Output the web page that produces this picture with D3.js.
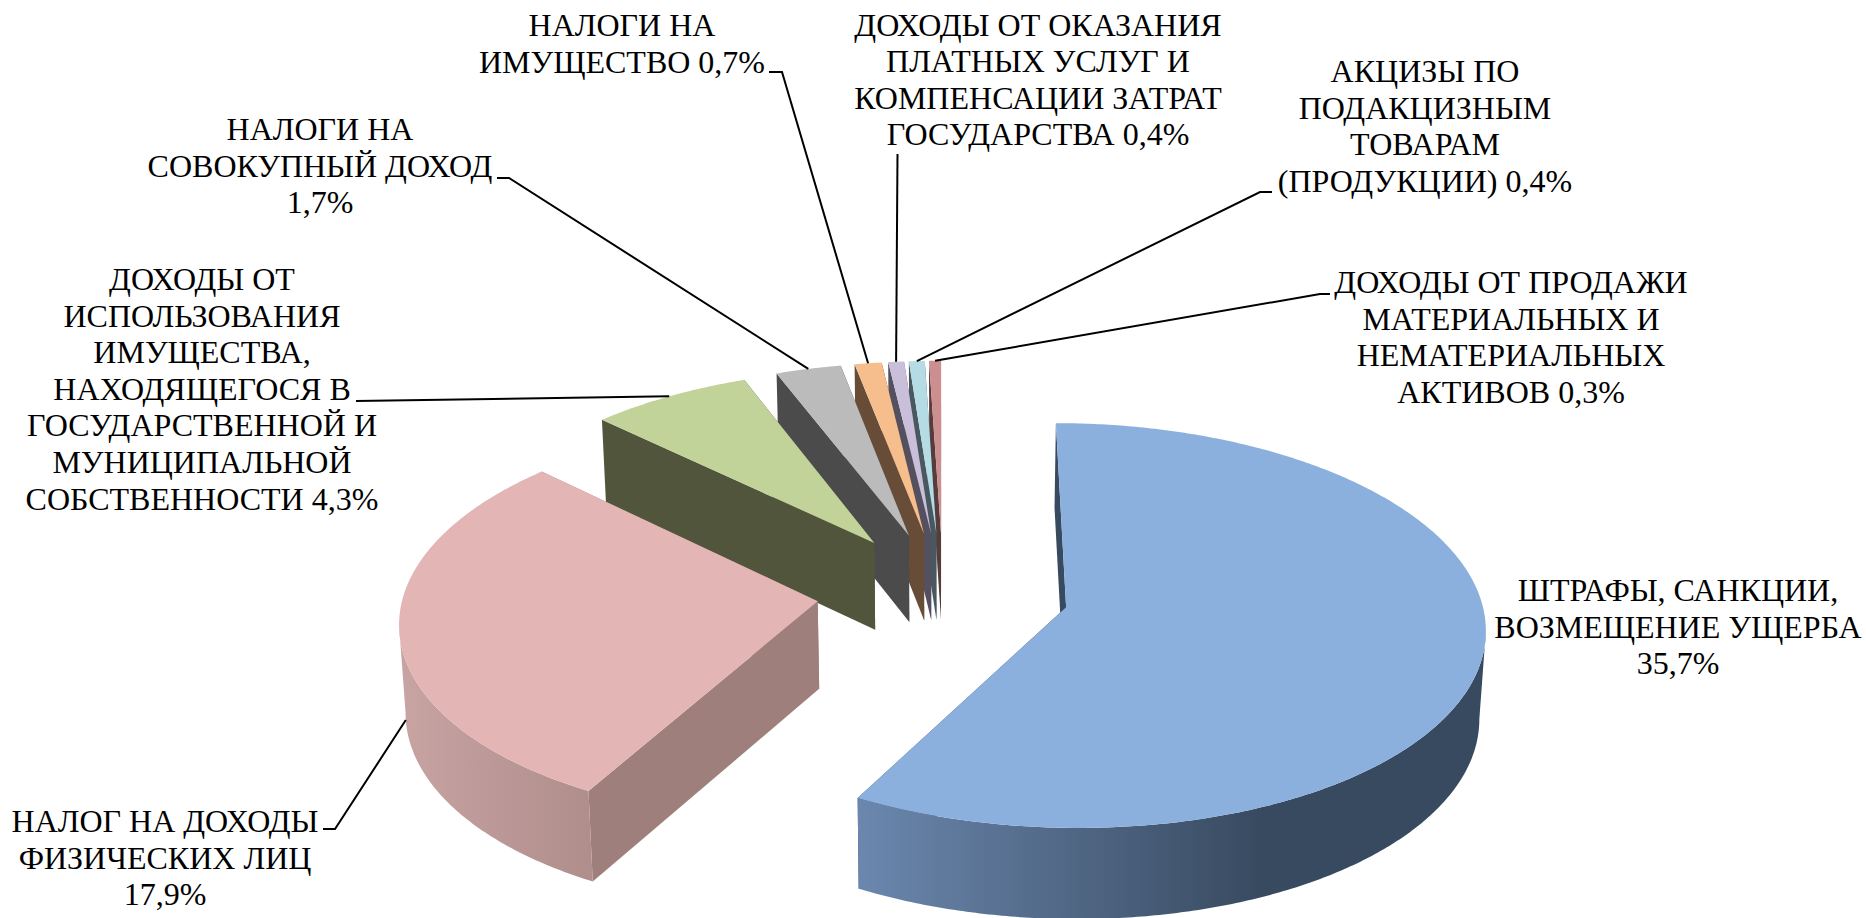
<!DOCTYPE html>
<html><head><meta charset="utf-8">
<script src="https://cdn.jsdelivr.net/npm/d3@7"></script>
<style>html,body{margin:0;padding:0;background:#fff;overflow:hidden}svg{display:block}text{font-family:"Liberation Serif","Times New Roman",serif;fill:#000}</style>
</head><body><svg id="c" width="1866" height="918"></svg>
<script>
// Data
const categories = [
  "ШТРАФЫ, САНКЦИИ, ВОЗМЕЩЕНИЕ УЩЕРБА",
  "НАЛОГ НА ДОХОДЫ ФИЗИЧЕСКИХ ЛИЦ",
  "ДОХОДЫ ОТ ИСПОЛЬЗОВАНИЯ ИМУЩЕСТВА, НАХОДЯЩЕГОСЯ В ГОСУДАРСТВЕННОЙ И МУНИЦИПАЛЬНОЙ СОБСТВЕННОСТИ",
  "НАЛОГИ НА СОВОКУПНЫЙ ДОХОД",
  "НАЛОГИ НА ИМУЩЕСТВО",
  "ДОХОДЫ ОТ ОКАЗАНИЯ ПЛАТНЫХ УСЛУГ И КОМПЕНСАЦИИ ЗАТРАТ ГОСУДАРСТВА",
  "АКЦИЗЫ ПО ПОДАКЦИЗНЫМ ТОВАРАМ (ПРОДУКЦИИ)",
  "ДОХОДЫ ОТ ПРОДАЖИ МАТЕРИАЛЬНЫХ И НЕМАТЕРИАЛЬНЫХ АКТИВОВ"
];
// consistent with the rounded percentages printed in the labels
const values = [35.67, 17.87, 4.3, 1.74, 0.72, 0.42, 0.42, 0.32];
const labelLines = [
  ["ШТРАФЫ, САНКЦИИ,","ВОЗМЕЩЕНИЕ УЩЕРБА","35,7%"],
  ["НАЛОГ НА ДОХОДЫ","ФИЗИЧЕСКИХ ЛИЦ","17,9%"],
  ["ДОХОДЫ ОТ","ИСПОЛЬЗОВАНИЯ","ИМУЩЕСТВА,","НАХОДЯЩЕГОСЯ В","ГОСУДАРСТВЕННОЙ И","МУНИЦИПАЛЬНОЙ","СОБСТВЕННОСТИ 4,3%"],
  ["НАЛОГИ НА","СОВОКУПНЫЙ ДОХОД","1,7%"],
  ["НАЛОГИ НА","ИМУЩЕСТВО 0,7%"],
  ["ДОХОДЫ ОТ ОКАЗАНИЯ","ПЛАТНЫХ УСЛУГ И","КОМПЕНСАЦИИ ЗАТРАТ","ГОСУДАРСТВА 0,4%"],
  ["АКЦИЗЫ ПО","ПОДАКЦИЗНЫМ","ТОВАРАМ","(ПРОДУКЦИИ) 0,4%"],
  ["ДОХОДЫ ОТ ПРОДАЖИ","МАТЕРИАЛЬНЫХ И","НЕМАТЕРИАЛЬНЫХ","АКТИВОВ 0,3%"]
];
// Styles
const topColors  = ["#8cb0de","#e3b5b5","#c2d399","#bbbbbb","#f6bd8d","#c9bfda","#b5dbe5","#cc8e8e"];
const wallColors = ["#384a60","#9f7f7c","#50553c","#4b4b4b","#674d38","#54505f","#48585e","#573c3c"];
// Layout
const layout = {cx:943, cy:592, rx:414, ry:198, explode:0.305, k:0.09, depth:87.5, depthExp:0.4, shrink:0.988, font:32, lead:36.6};
const labelLayout = [
  {x:1678, y:601},
  {x:165,  y:832, from:[[323,829],[335,829]]},
  {x:202,  y:290, from:[[356,401]]},
  {x:320,  y:140, from:[[497,178],[509,178]]},
  {x:622,  y:36,  from:[[769,72],[782,72]]},
  {x:1038, y:35.5,from:[[897.5,154]]},
  {x:1425, y:82,  from:[[1272,192],[1260,192]]},
  {x:1511, y:293, from:[[1330,294],[1320,294]]}
];

const svg = d3.select("#c");
const defs = svg.append("defs");
const addGrad = (id,x1,x2,stops)=>{
  const g = defs.append("linearGradient").attr("id",id).attr("gradientUnits","userSpaceOnUse")
    .attr("x1",x1).attr("x2",x2).attr("y1",0).attr("y2",0);
  stops.forEach(s=>g.append("stop").attr("offset",s[0]).attr("stop-color",s[1]));
};
addGrad("rim0",859,1262,[[0,"#6b87ae"],[1,"#384a60"]]);
addGrad("rim1",397,632,[[0,"#c8a4a3"],[1,"#aa8987"]]);

const arcs = d3.pie().sort(null).value(d=>d).startAngle(0).endAngle(2*Math.PI)(values);

const project = (a,b)=>{
  const w = 1 - layout.k*b;
  return {x:layout.cx + a*layout.rx/w, y:layout.cy + b*layout.ry/w, w};
};
const down = p=>[layout.cx + (p.x-layout.cx)*layout.shrink, p.y + layout.depth*Math.pow(p.w,-layout.depthExp)];
const up = p=>[p.x,p.y];
const sliceGeom = d=>{
  const mid=(d.startAngle+d.endAngle)/2;
  const ox=layout.explode*Math.sin(mid), oy=-layout.explode*Math.cos(mid);
  const pt=t=>project(ox+Math.sin(t), oy-Math.cos(t));
  return {apex:project(ox,oy), pt, mid};
};
const line = d3.line().x(d=>d[0]).y(d=>d[1]);
const samples = (t0,t1)=>{
  const n=Math.max(2,Math.ceil((t1-t0)/0.01));
  return d3.range(n+1).map(i=>t0+(t1-t0)*i/n);
};

const order = d3.range(values.length).reverse();
order.forEach(i=>{
  const d=arcs[i], g=sliceGeom(d), gEl=svg.append("g").attr("class","slice");
  // radial walls
  [d.endAngle,d.startAngle].forEach(t=>{
    const rim=g.pt(t);
    gEl.append("path").attr("fill",wallColors[i])
      .attr("d",line([up(rim),up(g.apex),down(g.apex),down(rim)])+"Z");
  });
  // outer rim: the near part, between the silhouette turning points of the whole disc
  const ang=samples(d.startAngle,d.endAngle);
  const near=ang.filter(t=>Math.cos(t)<0.3);
  if(near.length>1){
    const t0=(i===0)?d3.greatest(near,t=>g.pt(t).x):near[0];
    const t1=(i===1)?d3.least(near,t=>g.pt(t).x):near[near.length-1];
    const ts=ang.filter(t=>t>=t0&&t<=t1).map(g.pt);
    const fill = (i<2)?`url(#rim${i})`:wallColors[i];
    gEl.append("path").attr("fill",fill)
      .attr("d",line(ts.map(up).concat(ts.slice().reverse().map(down)))+"Z");
  }
  // top face
  const ts=ang.map(g.pt);
  gEl.append("path").attr("fill",topColors[i])
    .attr("d",line([up(g.apex)].concat(ts.map(up)))+"Z");
});

// Leader lines
labelLayout.forEach((l,i)=>{
  if(!l.from) return;
  const d=arcs[i], g=sliceGeom(d);
  const end = (i===1) ? down(g.pt(d.startAngle+(d.endAngle-d.startAngle)*0.5)) : up(g.pt(g.mid));
  svg.append("path").attr("fill","none").attr("stroke","#000").attr("stroke-width",2)
    .attr("d",line(l.from.concat([end])));
});

// Labels
labelLines.forEach((lines,i)=>{
  const l=labelLayout[i];
  const t=svg.append("text").attr("text-anchor","middle").attr("font-size",layout.font);
  t.selectAll("tspan").data(lines).join("tspan")
    .attr("x",l.x).attr("y",(s,j)=>l.y+j*layout.lead).text(s=>s);
});
</script></body></html>
